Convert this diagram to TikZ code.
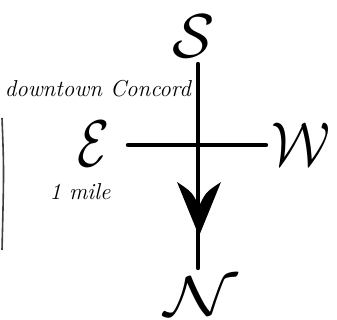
\documentclass[tikz,border=0pt]{standalone}
\usepackage{fontspec}
\usetikzlibrary{arrows.meta}
\newcommand{\bigcal}[3]{\scalebox{#1}[#2]{$\mathcal{#3}$}}
\begin{document}
\begin{tikzpicture}[x=1pt,y=-1pt,
  stroke/.style={line width=4.4pt,line cap=round,black},
  compass/.style={inner sep=0pt},
  note/.style={font=\itshape\fontsize{23}{27}\selectfont,inner sep=0pt}]
\useasboundingbox (0,0) rectangle (337,320);
\fill[white] (0,0) rectangle (337,320);
% scan edge
\draw[line width=1.6pt,black!75] (2,118) .. controls (4,170) .. (2,250);
% compass points
\node[compass] (S) at (194,36) {\bigcal{6.2}{6.2}{S}};
\node[compass] (E) at (94,144) {\bigcal{5.2}{6.6}{E}};
\node[compass] (W) at (301,144) {\bigcal{5.5}{6.2}{W}};
\node[compass] (N) at (201,296) {\bigcal{7.6}{5.6}{N}};
\coordinate (top) at (198,64);
\coordinate (bot) at (198,268);
\coordinate (left) at (128,145);
\coordinate (right) at (266,145);
\coordinate (tip) at (199,236);
\draw[stroke] (left) -- (right);
\draw[stroke] (top) -- (bot);
\fill (tip) -- (177,182) .. controls (192,192) .. (199,206) .. controls (206,192) .. (221,182) -- cycle;
% notes
\node[note,anchor=east] (dc) at (191,89) {downtown Concord};
\node[note] (mile) at (80,192) {1 mile};
\end{tikzpicture}
\end{document}
